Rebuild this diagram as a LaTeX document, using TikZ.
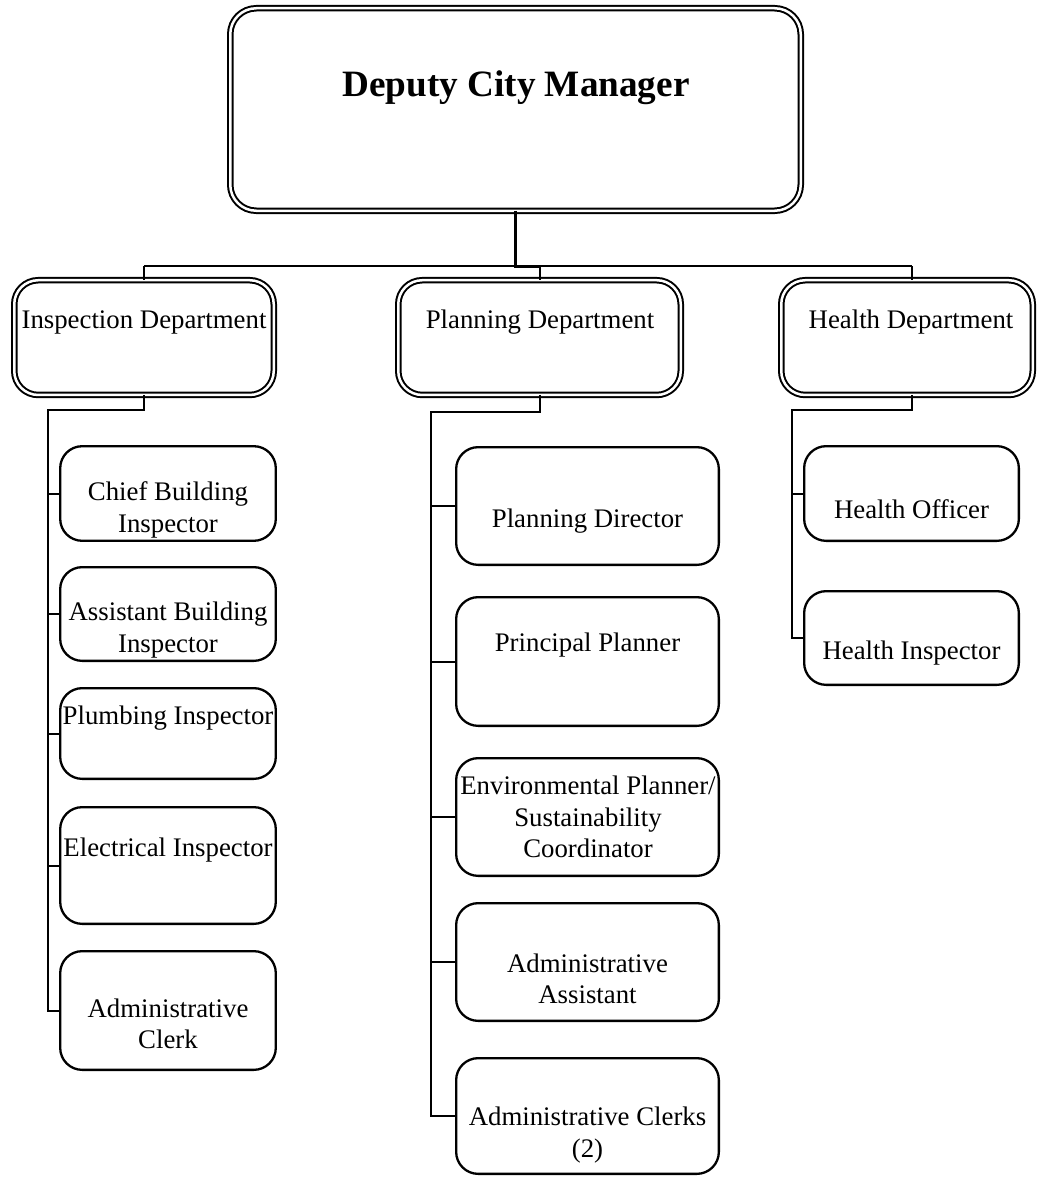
\documentclass[tikz,border=0pt]{standalone}
\usepackage{fontspec}
\setmainfont{Liberation Serif}
\begin{document}
\begin{tikzpicture}[x=1pt,y=-1pt,
  dbl/.style={draw, line width=2pt, double, double distance=2.5pt, inner sep=0pt, outer sep=0pt},
  topbox/.style={dbl, rounded corners=26pt},
  deptbox/.style={dbl, rounded corners=24pt},
  childbox/.style={draw, line width=2.3pt, rounded corners=22pt, inner sep=0pt, outer sep=0pt},
  lbl/.style={font=\fontsize{26.8}{31.5}\selectfont, align=center, inner sep=0pt},
  conn/.style={line width=2pt},
  thick conn/.style={line width=3pt}]
\useasboundingbox (0,0) rectangle (1037,1177);
\clip (0,0) rectangle (1037,1177);

% top
\node[topbox, minimum width=570.5pt, minimum height=202.5pt] (dcm) at (515.5,109.5) {};
\node[lbl, font=\bfseries\fontsize{37.2}{43}\selectfont] (dcmt) at (516,88) {Deputy City Manager};

% departments
\node[deptbox, minimum width=259.5pt, minimum height=114.75pt] (insp) at (144,337.6) {};
\node[deptbox, minimum width=282.5pt, minimum height=114.75pt] (plan) at (539.5,337.6) {};
\node[deptbox, minimum width=251.5pt, minimum height=114.75pt] (hlth) at (907,337.6) {};
\node[lbl] (inspt) at (144,322) {Inspection Department};
\node[lbl] (plant) at (540,322) {Planning Department};
\node[lbl] (hltht) at (911,322) {Health Department};

% inspection children
\node[childbox, minimum width=215.6pt, minimum height=94.6pt] (cbi) at (168,493.5) {};
\node[childbox, minimum width=215.6pt, minimum height=93.7pt] (abi) at (168,614) {};
\node[childbox, minimum width=215.6pt, minimum height=90.7pt] (pli) at (168,733.5) {};
\node[childbox, minimum width=215.6pt, minimum height=116.7pt] (eli) at (168,865.5) {};
\node[childbox, minimum width=215.6pt, minimum height=118.7pt] (acl) at (168,1010.5) {};
\node[lbl] (cbit) at (168,510) {Chief Building\\Inspector};
\node[lbl] (abit) at (168,630) {Assistant Building\\Inspector};
\node[lbl] (plit) at (168,718) {Plumbing Inspector};
\node[lbl] (elit) at (168,850) {Electrical Inspector};
\node[lbl] (aclt) at (168,1024) {Administrative\\Clerk};

% planning children
\node[childbox, minimum width=262.7pt, minimum height=117.7pt] (pdir) at (587.5,506) {};
\node[childbox, minimum width=262.7pt, minimum height=128.7pt] (ppl) at (587.5,661.5) {};
\node[childbox, minimum width=262.7pt, minimum height=117.7pt] (env) at (587.5,817) {};
\node[childbox, minimum width=262.7pt, minimum height=117.7pt] (aas) at (587.5,962) {};
\node[childbox, minimum width=262.7pt, minimum height=115.7pt] (acs) at (587.5,1116) {};
\node[lbl] (pdirt) at (587.5,521) {Planning Director};
\node[lbl] (pplt) at (587.5,645) {Principal Planner};
\node[lbl] (envt) at (588,817) {Environmental Planner/\\Sustainability\\Coordinator};
\node[lbl] (aast) at (587.5,979) {Administrative\\Assistant};
\node[lbl] (acst) at (587.5,1135) {Administrative Clerks\\(2)};

% health children
\node[childbox, minimum width=214.7pt, minimum height=94.7pt] (hof) at (911.5,493.5) {};
\node[childbox, minimum width=214.7pt, minimum height=93.7pt] (hin) at (911.5,638) {};
\node[lbl] (hoft) at (911.5,509) {Health Officer};
\node[lbl] (hint) at (911.5,653) {Health Inspector};

% connectors: top level
\coordinate (busL) at (144,266);
\coordinate (busR) at (912,266);
\draw[conn] (busL) -- (busR);
\draw[thick conn] (dcm.south) |- (plan.north |- busL);
\draw[conn] (busL) -- (insp.north);
\draw[conn] (plan.north |- busL) -- (plan.north);
\draw[conn] (busR) -- (busR |- hlth.north);

% inspection spine
\coordinate (ispine) at (48,410);
\draw[conn] (insp.south) |- (ispine) -- (ispine |- acl.west) -- (acl.west);
\foreach \n in {cbi,abi,pli,eli} \draw[conn] (ispine |- \n.west) -- (\n.west);

% planning spine
\coordinate (pspine) at (431,412);
\draw[conn] (plan.south) |- (pspine) -- (pspine |- acs.west) -- (acs.west);
\foreach \n in {pdir,ppl,env,aas} \draw[conn] (pspine |- \n.west) -- (\n.west);

% health spine
\coordinate (hspine) at (792,410);
\draw[conn] (busR |- hlth.south) |- (hspine) -- (hspine |- hin.west) -- (hin.west);
\draw[conn] (hspine |- hof.west) -- (hof.west);
\end{tikzpicture}
\end{document}
